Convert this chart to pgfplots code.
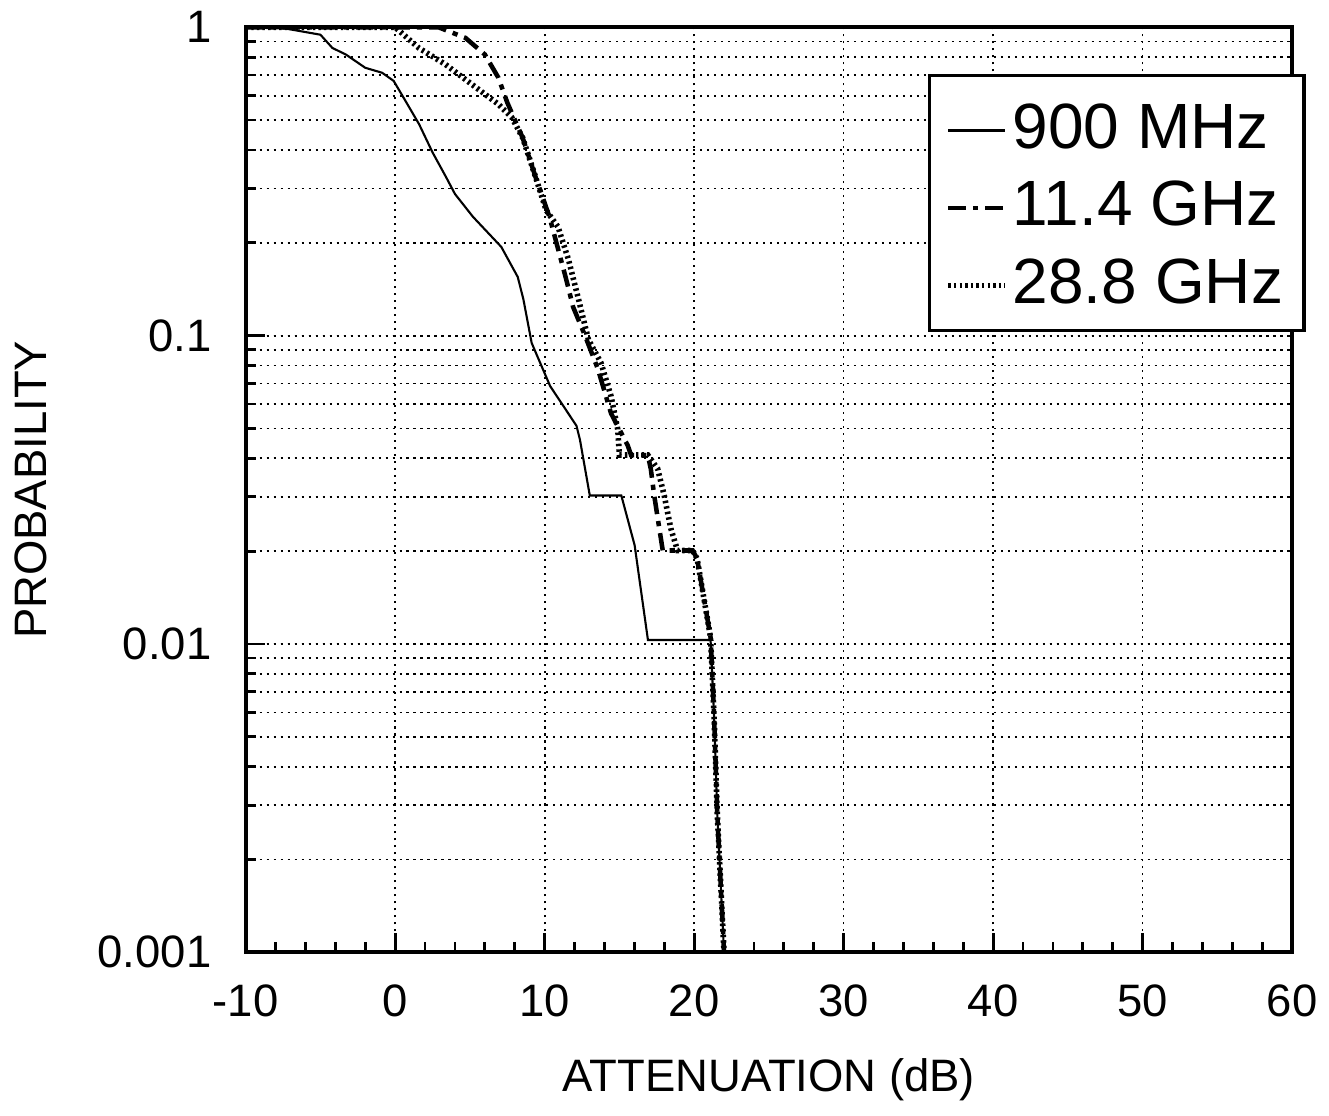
\documentclass[border=0pt]{standalone}
\usepackage{pgfplots}
\pgfplotsset{compat=1.18}
\usepackage{fontspec}
\setmainfont{Liberation Sans}

\begin{document}
\begin{tikzpicture}
\begin{axis}[
  name=ax,
  scale only axis,
  width=105.2mm, height=93mm,
  xmin=-10, xmax=60,
  ymode=log, ymin=0.001, ymax=1,
  xtick={-10,0,10,20,30,40,50,60},
  xticklabels={-10,0,10,20,30,40,50,60},
  minor x tick num=4,
  ytick={0.001,0.01,0.1,1},
  yticklabels={0.001,0.01,0.1,1},
  tick pos=left,
  tick align=inside,
  major tick length=1.9mm,
  minor tick length=1.0mm,
  tick style={black, line width=0.8pt},
  xmajorgrids=true, xminorgrids=false,
  ymajorgrids=true, yminorgrids=true,
  grid style={black, line width=0.5pt, dash pattern=on 0.6pt off 1.4pt},
  minor grid style={black, line width=0.5pt, dash pattern=on 0.6pt off 1.4pt},
  axis line style={line width=1.1pt},
  ticklabel style={font=\fontsize{13}{15}\selectfont},
  xticklabel style={yshift=-2mm},
  yticklabel style={xshift=-2.2mm},
  xlabel={ATTENUATION (dB)},
  ylabel={PROBABILITY},
  every axis x label/.style={at={(axis description cs:0.5,-0.1505)}, anchor=base, font=\fontsize{13}{15}\selectfont},
  every axis y label/.style={at={(axis description cs:-0.2053,0.5)}, anchor=center, rotate=90, font=\fontsize{13}{15}\selectfont},
  legend style={at={(axis description cs:0.652,0.9495)}, anchor=north west,
    draw=black, line width=1pt, fill=white,
    font=\fontsize{18.3}{21}\selectfont,
    inner xsep=1.6mm, inner ysep=1.8mm, row sep=1.4mm,
    nodes={inner sep=0.5mm, text height=5mm, text depth=0.4mm}},
  legend cell align=left,
  legend image code/.code={\draw[#1] (0mm,-0.5mm) -- (5.7mm,-0.5mm);},
]
% 900 MHz
\addplot[black, line width=0.6pt] coordinates {
(-10,1) (-7.3,0.99) (-5.0,0.946) (-4.2,0.857) (-3.3,0.816) (-2.0,0.739)
(-0.87,0.712) (-0.1,0.67) (0.69,0.577) (1.6,0.485) (2.5,0.393) (3.4,0.327)
(4.0,0.288) (5.2,0.243) (7.1,0.194) (8.2,0.155) (8.58,0.131) (9.13,0.0947)
(10.36,0.0687) (12.13,0.051) (12.36,0.046) (13.02,0.0303) (15.13,0.0303)
(16.02,0.0209) (16.91,0.0103) (20.91,0.0103) (21.1,0.0103) (21.33,0.0059)
(21.55,0.0028) (22.0,0.001)
};
\addlegendentry{900 MHz}
% 11.4 GHz
\addplot[black, line width=1.3pt, dash pattern=on 5pt off 2pt on 1.5pt off 2pt] coordinates {
(-10,1) (2.9,1) (4.7,0.924) (6.0,0.816) (6.9,0.687) (7.5,0.57) (8.53,0.438)
(9.4,0.326) (10.33,0.242) (11.4,0.155) (11.9,0.124) (12.7,0.1) (13.56,0.078)
(14.44,0.056) (15.56,0.044) (15.78,0.041) (16.9,0.041) (17.1,0.037)
(17.33,0.0303) (17.67,0.0237) (17.9,0.0201) (19.9,0.0201) (20.2,0.0189)
(21.1,0.0105) (21.33,0.0059) (21.55,0.0028) (22.0,0.001)
};
\addlegendentry{11.4 GHz}
% 28.8 GHz
\addplot[black, line width=1.6pt, dash pattern=on 0.7pt off 0.9pt] coordinates {
(-10,1) (0.0,1) (1.58,0.857) (3.36,0.758) (5.13,0.653) (6.9,0.563) (7.8,0.51)
(8.53,0.438) (9.4,0.326) (10.1,0.255) (10.9,0.225) (11.6,0.176) (12.27,0.131)
(12.93,0.097) (13.77,0.0816) (14.44,0.0637) (14.89,0.0497) (15.0,0.041)
(16.9,0.041) (17.56,0.037) (18.0,0.0303) (18.44,0.0237) (18.78,0.0209)
(18.9,0.0201) (19.9,0.0201) (20.2,0.0189) (21.1,0.0105) (21.33,0.0059)
(21.55,0.0028) (22.0,0.001)
};
\addlegendentry{28.8 GHz}
\end{axis}
\path ([xshift=-24.7mm,yshift=-16.4mm]ax.south west) rectangle ([xshift=3mm,yshift=2.6mm]ax.north east);
\end{tikzpicture}
\end{document}
